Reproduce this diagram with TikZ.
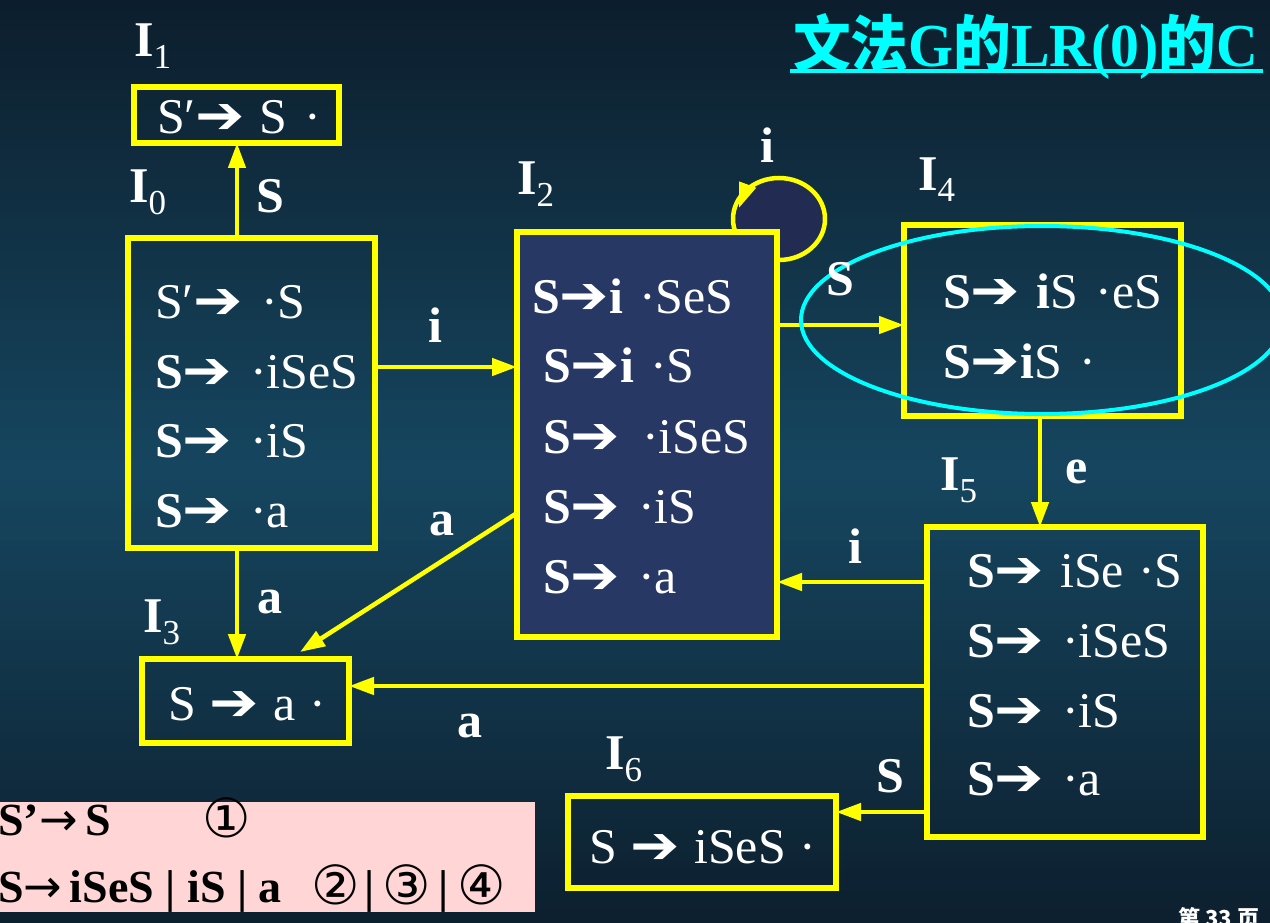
\documentclass[tikz,border=0pt]{standalone}
\usepackage{fontspec}
\setmainfont{Liberation Serif}
\newfontfamily\arrowfont{DejaVu Sans}
\newfontfamily\symfont{DejaVu Sans}
\newfontfamily\cjkfont{Noto Sans CJK SC}
\usetikzlibrary{arrows.meta,calc,shapes.geometric}
\definecolor{yel}{RGB}{255,255,0}
\definecolor{cyanc}{RGB}{0,255,255}
\definecolor{pinkc}{RGB}{255,213,213}
\definecolor{ifill}{RGB}{40,56,100}
\definecolor{loopfill}{RGB}{34,44,82}
\definecolor{bgtop}{RGB}{12,30,44}
\definecolor{bgmid}{RGB}{22,70,96}
\newcommand\harr{\scalebox{1.18}[1.05]{\arrowfont ➔}}
\newcommand\bS{\textbf{S}}
\newcommand\bi{\textbf{i}}
\tikzset{
  box/.style={draw=yel, line width=5.5pt, rectangle, inner sep=0pt, outer sep=0pt, anchor=north west},
  arr/.style={draw=yel, line width=4.5pt, -{Triangle[length=25pt,width=17pt]}},
  txt/.style={anchor=base west, inner sep=0pt, outer sep=0pt, text=white, font=\fontsize{50}{60}\selectfont},
  lbl/.style={anchor=base, inner sep=0pt, text=white, font=\bfseries\fontsize{50}{60}\selectfont},
  ilbl/.style={anchor=base west, inner sep=0pt, text=white, font=\fontsize{50}{60}\selectfont},
  gtxt/.style={anchor=base west, inner sep=0pt, text=black, font=\bfseries\fontsize{46}{54}\selectfont},
  gnum/.style={anchor=base west, inner sep=0pt, text=black, font=\symfont\fontsize{54}{60}\selectfont}
}
\newcommand\Ilab[1]{\textbf{I}\raisebox{-12pt}{\fontsize{35}{40}\selectfont #1}}
\begin{document}
\begin{tikzpicture}[x=1pt,y=-1pt]
\useasboundingbox (0,0) rectangle (1270,923);
\foreach \i in {0,...,92} {
  \pgfmathtruncatemacro\p{max(0,100*(1-abs(\i*10+5-470)/470))}
  \fill[bgmid!\p!bgtop] (0,\i*10) rectangle (1270,\i*10+11);
}

% self loop
\node[ellipse, draw=yel, fill=loopfill, line width=4.5pt, minimum width=92pt, minimum height=82pt, inner sep=0pt] (loop) at (779,219) {};
\draw[arr] ($(loop.center)+(-33,-30)$) -- ($(loop.center)+(-40,-11)$);

% boxes
\node[box, minimum width=205pt, minimum height=56pt] (I1) at (134,87) {};
\node[box, minimum width=247pt, minimum height=310pt] (I0) at (128,238) {};
\node[box, fill=ifill, minimum width=260pt, minimum height=405pt] (I2) at (517,232) {};
\node[box, minimum width=277pt, minimum height=191pt] (I4) at (904,225) {};
\node[box, minimum width=276pt, minimum height=310pt] (I5) at (927,527) {};
\node[box, minimum width=207pt, minimum height=84pt] (I3) at (142,659) {};
\node[box, minimum width=268pt, minimum height=92pt] (I6) at (568,796) {};

% connectors
\draw[arr] ($(I0.north west)+(109,0)$) -- ($(I1.south west)+(103,0)$);
\draw[arr] ($(I0.north east)+(0,129)$) -- ($(I2.north west)+(0,135)$);
\draw[arr] ($(I2.north east)+(0,93)$) -- ($(I4.north west)+(0,100)$);
\draw[arr] ($(I4.south west)+(136,0)$) -- ($(I5.north west)+(113,0)$);
\draw[arr] ($(I5.north west)+(0,55)$) -- ($(I2.north east)+(0,350)$);
\draw[arr] ($(I5.north west)+(0,159)$) -- ($(I3.north east)+(0,27)$);
\draw[arr] ($(I5.north west)+(0,285)$) -- ($(I6.north east)+(0,16)$);
\draw[arr] ($(I0.south west)+(109,0)$) -- ($(I3.north west)+(95,0)$);
\draw[arr] ($(I2.north west)+(0,281)$) -- ($(I3.north west)+(158,-7)$);

% cyan ellipse
\node[ellipse, draw=cyanc, line width=4pt, minimum width=482pt, minimum height=188pt, inner sep=0pt] (hl) at (1042,320) {};

% state labels
\node[ilbl] (n1) at (134,57) {\Ilab{1}};
\node[ilbl] (n0) at (129,203) {\Ilab{0}};
\node[ilbl] (n2) at (517,195) {\Ilab{2}};
\node[ilbl] (n4) at (918,190) {\Ilab{4}};
\node[ilbl] (n5) at (940,490) {\Ilab{5}};
\node[ilbl] (n3) at (143,632) {\Ilab{3}};
\node[ilbl] (n6) at (605,769) {\Ilab{6}};

% edge labels
\node[lbl] (eS1) at (270,212) {S};
\node[lbl] (ei1) at (435,342) {i};
\node[lbl] (eil) at (767,163) {i};
\node[lbl] (eS2) at (840,295) {S};
\node[lbl] (ee) at (1077,483) {e};
\node[lbl] (ei2) at (855,563) {i};
\node[lbl] (ea1) at (270,613) {a};
\node[lbl] (ea2) at (442,535) {a};
\node[lbl] (ea3) at (470,737) {a};
\node[lbl] (eS3) at (890,792) {S};

% item texts
\node[txt] (t1) at (157,134) {S′\harr\hspace{14pt}S\hspace{18pt}·};
\node[txt] (t0a) at (155,318) {S′\harr\hspace{18pt}·S};
\node[txt] (t0b) at (155,388) {\bS\harr\hspace{18pt}·iSeS};
\node[txt] (t0c) at (155,457) {\bS\harr\hspace{18pt}·iS};
\node[txt] (t0d) at (155,527) {\bS\harr\hspace{18pt}·a};
\node[txt] (t2a) at (532,313) {\bS\harr\bi\hspace{16pt}·SeS};
\node[txt] (t2b) at (543,382) {\bS\harr\bi\hspace{16pt}·S};
\node[txt] (t2c) at (543,453) {\bS\harr\hspace{22pt}·iSeS};
\node[txt] (t2d) at (543,523) {\bS\harr\hspace{18pt}·iS};
\node[txt] (t2e) at (543,593) {\bS\harr\hspace{18pt}·a};
\node[txt] (t4a) at (943,308) {\bS\harr\hspace{16pt}\bi S\hspace{18pt}·eS};
\node[txt] (t4b) at (943,378) {\bS\harr\bi S\hspace{18pt}·};
\node[txt] (t5a) at (967,587) {\bS\harr\hspace{16pt}iSe\hspace{14pt}·S};
\node[txt] (t5b) at (967,657) {\bS\harr\hspace{18pt}·iSeS};
\node[txt] (t5c) at (967,727) {\bS\harr\hspace{18pt}·iS};
\node[txt] (t5d) at (967,795) {\bS\harr\hspace{18pt}·a};
\node[txt] (t3) at (168,720) {S\hspace{14pt}\harr\hspace{14pt}a\hspace{14pt}·};
\node[txt] (t6) at (589,863) {S\hspace{14pt}\harr\hspace{14pt}iSeS\hspace{14pt}·};

% title
\node[anchor=base west, inner sep=0pt, text=cyanc] (title) at (793,67) {\resizebox{465pt}{53pt}{{\cjkfont\bfseries 文法}\textbf{G}{\cjkfont\bfseries 的}\textbf{LR(0)}{\cjkfont\bfseries 的}\textbf{C}}};
\draw[cyanc, line width=3.5pt] ($(title.base west)+(-3,4)$) -- ($(title.base east)+(4,4)$);

% grammar box
\node[fill=pinkc, anchor=north west, minimum width=535pt, minimum height=110pt, inner sep=0pt] (gram) at (0,802) {};
\node[gtxt] (g1) at (-2,835) {S’{\symfont\mdseries →}\,S};
\node[gnum] (g1n) at (202,837) {①};
\node[gtxt] (g2) at (-2,902) {S{\symfont\mdseries →}\,iSeS | iS | a};
\node[gnum] (g2a) at (311,904) {②};
\node[gtxt] (g2b) at (364,902) {|};
\node[gnum] (g2c) at (382,904) {③};
\node[gtxt] (g2d) at (438,902) {|};
\node[gnum] (g2e) at (457,904) {④};

% footer
\node[anchor=base west, inner sep=0pt, text=white, font=\cjkfont\bfseries\fontsize{22}{26}\selectfont] (foot) at (1178,926) {第\ 33\ 页};
\end{tikzpicture}
\end{document}
